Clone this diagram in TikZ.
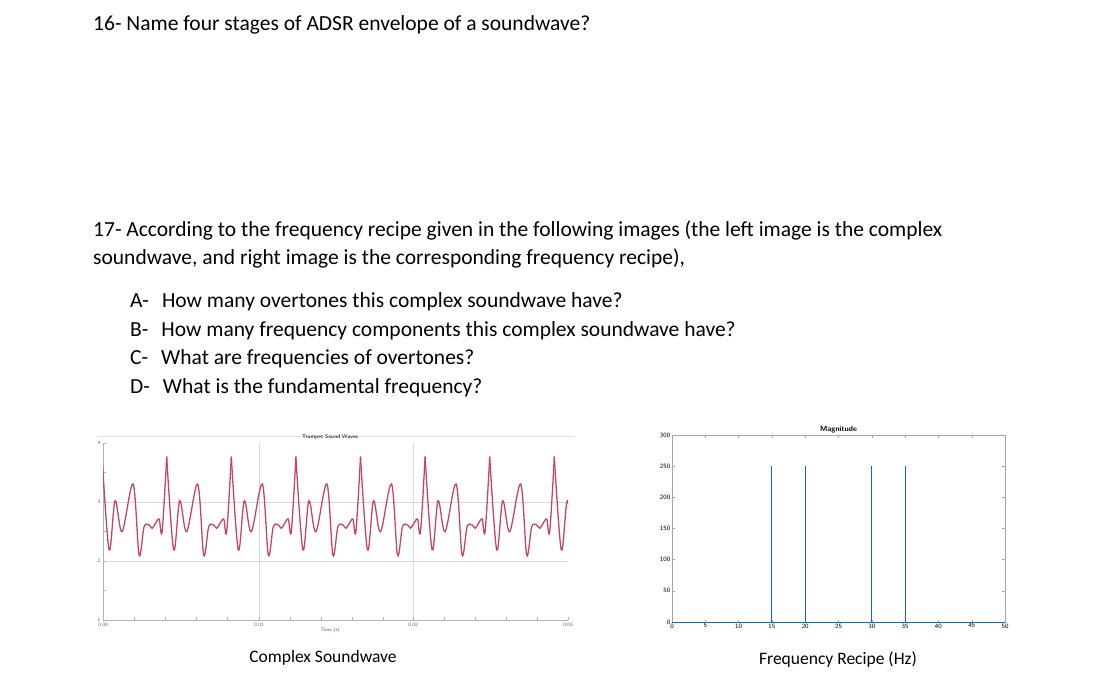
\documentclass[tikz,border=0pt]{standalone}
\usepackage{fontspec}
\setmainfont{Carlito}
\definecolor{wave}{RGB}{196,70,100}
\definecolor{mblue}{RGB}{0,114,189}
\begin{document}
\begin{tikzpicture}[x=1pt,y=-1pt,
  q/.style={anchor=base west,font=\fontsize{21.5}{24}\selectfont,inner sep=0},
  captext/.style={font=\fontsize{17.5}{20}\selectfont,inner sep=0},
  tick/.style={font=\sffamily\fontsize{5}{6}\selectfont,inner sep=1pt,gray!70!black},
  rtick/.style={font=\sffamily\fontsize{6.5}{7}\selectfont,inner sep=1.5pt}]
\useasboundingbox (0,0) rectangle (1100,682);
\node[q] (t16) at (93,31) {16- Name four stages of ADSR envelope of a soundwave?};
\node[q] (t17a) at (93,236) {17- According to the frequency recipe given in the following images (the left image is the complex};
\node[q] (t17b) at (93,264) {soundwave, and right image is the corresponding frequency recipe),};
\node[q] (a) at (130,307) {A-\hspace{13pt}How many overtones this complex soundwave have?};
\node[q] (b) at (130,336) {B-\hspace{13pt}How many frequency components this complex soundwave have?};
\node[q] (c) at (130,364) {C-\hspace{13pt}What are frequencies of overtones?};
\node[q] (d) at (130,393) {D-\hspace{13pt}What is the fundamental frequency?};
% left plot
\draw[gray!25] (97,436) -- (575,436);
\draw[gray!30] (259,443) -- (259,620) (413,443) -- (413,620) (103,502) -- (568,502) (103,561) -- (568,561);
\draw[gray!60] (103,443) -- (103,620) -- (568,620);
\foreach \x in {103,134,165,196,227,259,290,321,352,383,413,444,475,506,537,568} \draw[gray!60] (\x,620) -- (\x,617);
\foreach \y in {443,472,502,531,561,590} \draw[gray!60] (103,\y) -- (106,\y);
\node[tick] (y4) at (99,443) {4};
\node[tick] (y3) at (99,502) {3};
\node[tick] (y2) at (99,561) {2};
\node[tick] (y1) at (99,620) {1};
\node[tick] (x0) at (103,625) {0.00};
\node[tick] (x1) at (259,625) {0.01};
\node[tick] (x2) at (413,625) {0.02};
\node[tick] (x3) at (568,625) {0.03};
\node[tick] (xl) at (330,630) {Time (s)};
\node[font=\sffamily\fontsize{5.5}{6}\selectfont,inner sep=0] (wt) at (330,437) {Trumpet Sound Waves};
\begin{scope}
\clip (103,440) rectangle (568,620);
\foreach \k in {-1,0,...,6}{
  \begin{scope}[xshift=\k*64.6+166.7]
  \draw[wave,line width=1.3pt] plot[smooth,tension=0.55] coordinates {
   (0,456.7) (7,550) (13,500.7) (20,531.7) (31,484) (37,555) (42,526.7) (47,525) (50,528.3) (53,524) (57,519) (60,531.7) (64.6,456.7)};
  \end{scope}}
\end{scope}
% right plot
\begin{scope}[shift={(672,622)},x=6.66pt,y=0.6233pt]
\draw[gray!70] (0,0) rectangle (50,300);
\foreach \v in {0,5,...,50}{\draw[gray!70] (\v,0) -- (\v,4) (\v,300) -- (\v,296);
  \node[rtick,below] (xt\v) at (\v,0) {\v};}
\foreach \v in {0,50,...,300}{\draw[gray!70] (0,\v) -- (0.5,\v) (50,\v) -- (49.5,\v);
  \node[rtick,left] (yt\v) at (0,\v) {\v};}
\draw[mblue,line width=0.9pt] (0,0) -- (50,0);
\foreach \f in {15,20,30,35} \draw[mblue,line width=0.9pt] (\f,0) -- (\f,250);
\node[font=\sffamily\bfseries\fontsize{7.5}{8}\selectfont,above,inner sep=2pt] (mag) at (25,300) {Magnitude};
\end{scope}
\node[captext] (c1) at (323,658) {Complex Soundwave};
\node[captext] (c2) at (838,660) {Frequency Recipe (Hz)};
\end{tikzpicture}
\end{document}
